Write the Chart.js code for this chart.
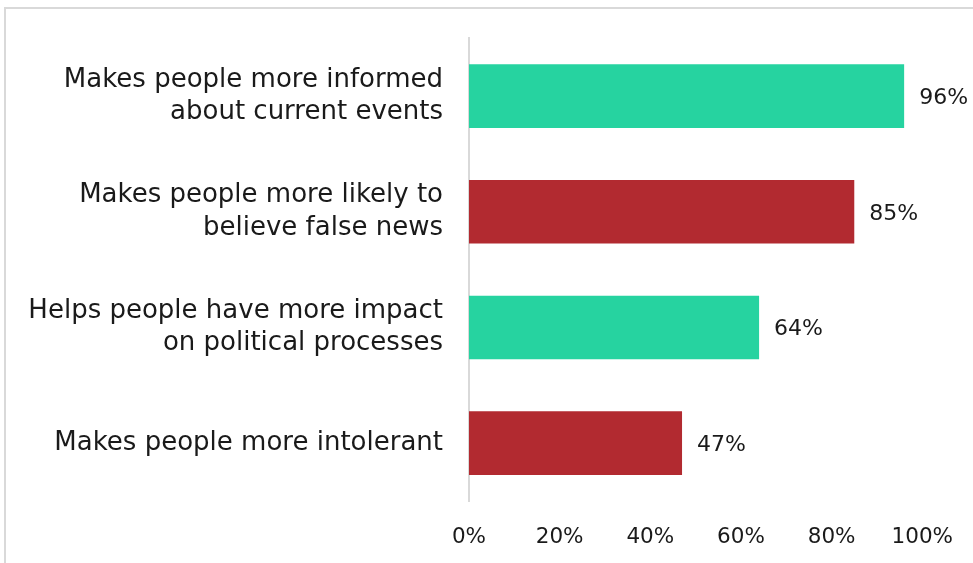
<!DOCTYPE html>
<html>
<head>
<meta charset="utf-8">
<script src="https://cdn.jsdelivr.net/npm/chart.js@4"></script>
<style>
html,body{margin:0;padding:0;background:#fff;overflow:hidden;}
#wrap{position:relative;width:973px;height:563px;overflow:hidden;}
#frame{position:absolute;left:4px;top:7px;width:1100px;height:700px;border:2px solid #d9d9d9;box-sizing:border-box;}
canvas{position:absolute;left:0;top:-4px;}
</style>
</head>
<body>
<div id="wrap"><div id="frame"></div><canvas id="c" width="977" height="567"></canvas></div>
<script>
const categories = [
  ["Makes people more informed", "about current events"],
  ["Makes people more likely to", "believe false news"],
  ["Helps people have more impact", "on political processes"],
  ["Makes people more intolerant"]
];
const values = [96, 85, 64, 47];
const barColors = ["#26D3A0", "#B22A30", "#26D3A0", "#B22A30"];
const tickValues = [0, 20, 40, 60, 80, 100];

const FONT = "'DejaVu Sans', sans-serif";

const valueLabels = {
  id: 'valueLabels',
  afterDatasetsDraw(chart) {
    const ctx = chart.ctx;
    const meta = chart.getDatasetMeta(0);
    ctx.save();
    ctx.font = "22px " + FONT;
    ctx.fillStyle = "#1a1a1a";
    ctx.textAlign = "left";
    ctx.textBaseline = "middle";
    meta.data.forEach((bar, i) => {
      ctx.fillText(values[i] + "%", bar.x + 15, bar.y + 2);
    });
    ctx.restore();
  }
};

new Chart(document.getElementById('c'), {
  type: 'bar',
  data: {
    labels: categories,
    datasets: [{
      data: values,
      backgroundColor: barColors,
      borderWidth: 0,
      categoryPercentage: 1,
      barPercentage: 0.55
    }]
  },
  options: {
    indexAxis: 'y',
    responsive: false,
    animation: false,
    devicePixelRatio: 1,
    layout: { padding: { top: 0, right: 47, left: 0, bottom: 0 } },
    plugins: { legend: { display: false }, tooltip: { enabled: false } },
    scales: {
      x: {
        min: 0, max: 100,
        afterBuildTicks: s => { s.ticks = tickValues.map(v => ({ value: v })); },
        afterFit: s => { s.height = 62; },
        grid: { display: false, drawTicks: false },
        border: { display: false },
        ticks: {
          callback: v => v + "%",
          color: "#1a1a1a",
          font: { family: FONT, size: 21.5 },
          padding: 24,
          maxRotation: 0
        }
      },
      y: {
        afterFit: s => { s.width = 469; },
        grid: { display: false, drawTicks: false },
        border: { display: true, color: "#d9d9d9", width: 2 },
        ticks: {
          color: "#1a1a1a",
          font: { family: FONT, size: 26, lineHeight: 1.25 },
          padding: 26
        }
      }
    }
  },
  plugins: [valueLabels]
});
</script>
</body>
</html>
